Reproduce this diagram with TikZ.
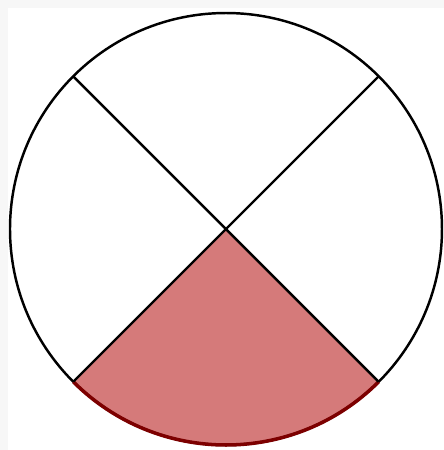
\documentclass[tikz,border=0pt]{standalone}
\definecolor{sectorred}{RGB}{213,122,122}
\definecolor{arcred}{RGB}{125,0,0}
\begin{document}
\begin{tikzpicture}[x=0.01cm,y=0.01cm,line width=0.7pt]
  % 边界
  \useasboundingbox (0,0) rectangle (444,450);
  \fill[gray!6] (0,0) rectangle (8,450);
  \fill[gray!6] (0,442) rectangle (444,450);
  % 圆心
  \coordinate (O) at (226,221);
  % 下方扇形
  \fill[sectorred] (O) -- ++(225:216) arc (225:315:216) -- cycle;
  % 圆
  \draw (O) circle (216);
  \draw[arcred,line width=1pt] (O) ++(225:216) arc (225:315:216);
  % 两条对角线
  \draw (O) -- ++(45:216);
  \draw (O) -- ++(135:216);
  \draw (O) -- ++(225:216);
  \draw (O) -- ++(315:216);
\end{tikzpicture}
\end{document}
